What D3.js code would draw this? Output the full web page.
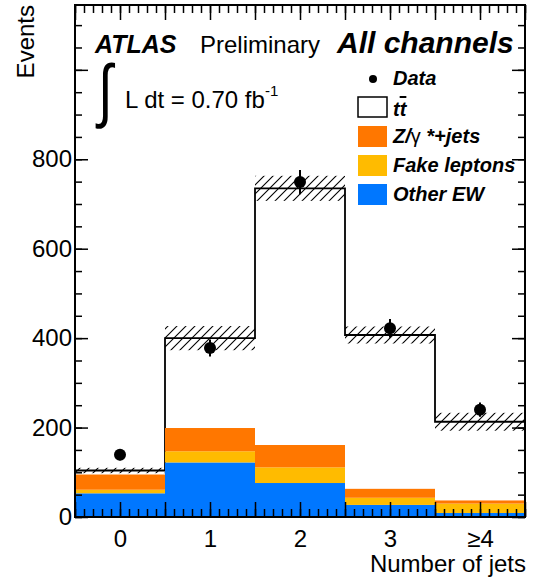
<!DOCTYPE html>
<html>
<head>
<meta charset="utf-8">
<script src="https://cdn.jsdelivr.net/npm/d3@7"></script>
<style>
  body { margin: 0; background: #fff; }
  text { font-family: "Liberation Sans", Arial, sans-serif; }
</style>
</head>
<body>
<div id="chart"></div>
<script>
// bins: number of jets
var jetBins = [0, 1, 2, 3, 4];
var binLabels = ["0", "1", "2", "3", "\u22654"];

// stacked backgrounds (bottom to top)
var otherEW = [53, 122, 76, 27, 9];
var fakeLeptons = [8, 25, 35, 16, 21];
var zJets = [34, 52, 50, 20, 7];
// ttbar on top of the backgrounds
var ttbar = [9, 201, 574, 344, 176];
// systematic band half-width on the total
var totalUnc = [6, 27, 28, 19, 20];

// data
var dataCounts = [139, 378, 749, 422, 240];
var dataErr = [12, 19, 27, 21, 16];

var yTicks = [0, 200, 400, 600, 800, 1000];

var svgWidth = 533;
var svgHeight = 586;

var margin = { top: 5, right: 8, bottom: 69, left: 75 };
var width = 450;
var height = svgHeight - margin.top - margin.bottom;

var svg = d3.select("#chart")
  .append("svg")
  .attr("width", svgWidth)
  .attr("height", svgHeight);

var chartGroup = svg.append("g")
  .attr("transform", `translate(${margin.left}, ${margin.top})`);

var x = d3.scaleLinear().domain([-0.5, 4.5]).range([0, width]);
var y = d3.scaleLinear().domain([0, 1145]).range([height, 0]);

var rows = jetBins.map(function(b, i) {
  return { bin: b, other: otherEW[i], fake: fakeLeptons[i], z: zJets[i], tt: ttbar[i] };
});
var total = rows.map(d => d.other + d.fake + d.z + d.tt);

// hatch pattern for the uncertainty band
var defs = svg.append("defs");
defs.append("pattern")
  .attr("id", "hatch")
  .attr("patternUnits", "userSpaceOnUse")
  .attr("width", 9)
  .attr("height", 9)
  .append("path")
  .attr("d", "M-2,11 L11,-2 M-2,2 L2,-2 M7,11 L11,7")
  .attr("stroke", "#000")
  .attr("stroke-width", 1.1);

// ttbar outline (stack total), drawn first, backgrounds drawn over it
var stepPts = [[x(-0.5), y(0)]];
rows.forEach(function(d, i) {
  stepPts.push([x(d.bin - 0.5), y(total[i])]);
  stepPts.push([x(d.bin + 0.5), y(total[i])]);
});
stepPts.push([x(4.5), y(0)]);

chartGroup.append("path")
  .attr("d", d3.line()(stepPts))
  .attr("fill", "#fff")
  .attr("stroke", "#000")
  .attr("stroke-width", 1.8);

// background stack
var keys = ["other", "fake", "z"];
var colors = { other: "#0077ff", fake: "#ffbb00", z: "#ff7700" };
var stacked = d3.stack().keys(keys)(rows);

chartGroup.selectAll(".layer")
  .data(stacked)
  .enter()
  .append("g")
  .attr("class", "layer")
  .attr("fill", d => colors[d.key])
  .selectAll("rect")
  .data(d => d)
  .enter()
  .append("rect")
  .attr("x", d => x(d.data.bin - 0.5))
  .attr("width", x(1) - x(0))
  .attr("y", d => y(d[1]))
  .attr("height", d => y(d[0]) - y(d[1]));

// uncertainty band
chartGroup.selectAll(".band")
  .data(rows)
  .enter()
  .append("rect")
  .attr("class", "band")
  .attr("x", d => x(d.bin - 0.5))
  .attr("width", x(1) - x(0))
  .attr("y", (d, i) => y(total[i] + totalUnc[i]))
  .attr("height", (d, i) => y(total[i] - totalUnc[i]) - y(total[i] + totalUnc[i]))
  .attr("fill", "url(#hatch)");

// axes: ticks inward
function styleAxis(g) {
  g.select(".domain").remove();
  g.selectAll("line").attr("stroke", "#000").attr("stroke-width", 1.5);
  g.selectAll("text").attr("font-size", "24px").attr("fill", "#000")
    .attr("font-family", "'Liberation Sans', Arial, sans-serif");
}

var xMajor = d3.range(-0.5, 4.51, 0.5);
var xMinor = d3.range(-0.5, 4.51, 0.1);
var yMinor = d3.range(0, 1141, 50);

chartGroup.append("g")
  .attr("transform", `translate(0, ${height})`)
  .call(d3.axisBottom(x).tickValues(xMinor).tickSizeInner(-8).tickSizeOuter(0).tickFormat(""))
  .call(styleAxis);

chartGroup.append("g")
  .attr("transform", `translate(0, ${height})`)
  .call(d3.axisBottom(x).tickValues(xMajor).tickSizeInner(-15).tickSizeOuter(0)
    .tickPadding(13)
    .tickFormat(function(v) {
      var i = jetBins.indexOf(Math.round(v * 10) / 10);
      return i >= 0 ? binLabels[i] : "";
    }))
  .call(styleAxis);

chartGroup.append("g")
  .call(d3.axisTop(x).tickValues(xMinor).tickSizeInner(-8).tickSizeOuter(0).tickFormat(""))
  .call(styleAxis);

chartGroup.append("g")
  .call(d3.axisTop(x).tickValues(xMajor).tickSizeInner(-15).tickSizeOuter(0).tickFormat(""))
  .call(styleAxis);

chartGroup.append("g")
  .call(d3.axisLeft(y).tickValues(yMinor).tickSizeInner(-7).tickSizeOuter(0).tickFormat(""))
  .call(styleAxis);

chartGroup.append("g")
  .call(d3.axisLeft(y).tickValues(yTicks).tickSizeInner(-13).tickSizeOuter(0).tickPadding(3)
    .tickFormat(v => v === 1000 ? "" : v))
  .call(styleAxis);

chartGroup.append("g")
  .attr("transform", `translate(${width}, 0)`)
  .call(d3.axisRight(y).tickValues(yMinor).tickSizeInner(-7).tickSizeOuter(0).tickFormat(""))
  .call(styleAxis);

chartGroup.append("g")
  .attr("transform", `translate(${width}, 0)`)
  .call(d3.axisRight(y).tickValues(yTicks).tickSizeInner(-13).tickSizeOuter(0).tickFormat(""))
  .call(styleAxis);

// frame
chartGroup.append("rect")
  .attr("x", 0).attr("y", 0)
  .attr("width", width).attr("height", height)
  .attr("fill", "none")
  .attr("stroke", "#000")
  .attr("stroke-width", 2);

// data points
chartGroup.selectAll(".errbar")
  .data(dataCounts)
  .enter()
  .append("line")
  .attr("class", "errbar")
  .attr("x1", (d, i) => x(jetBins[i]))
  .attr("x2", (d, i) => x(jetBins[i]))
  .attr("y1", (d, i) => y(d - dataErr[i]))
  .attr("y2", (d, i) => y(d + dataErr[i]))
  .attr("stroke", "#000")
  .attr("stroke-width", 2);

chartGroup.selectAll(".pt")
  .data(dataCounts)
  .enter()
  .append("circle")
  .attr("class", "pt")
  .attr("cx", (d, i) => x(jetBins[i]))
  .attr("cy", d => y(d))
  .attr("r", 6)
  .attr("fill", "#000");

// axis titles
svg.append("text")
  .attr("transform", "translate(34, 5) rotate(-90)")
  .attr("text-anchor", "end")
  .attr("font-size", "24px")
  .text("Events");

svg.append("text")
  .attr("x", 526)
  .attr("y", 572)
  .attr("text-anchor", "end")
  .attr("font-size", "24px")
  .text("Number of jets");

// ATLAS label
svg.append("text")
  .attr("x", 95).attr("y", 53)
  .attr("font-size", "25px")
  .attr("font-weight", "bold")
  .attr("font-style", "italic")
  .text("ATLAS");

svg.append("text")
  .attr("x", 200).attr("y", 53)
  .attr("font-size", "24px")
  .text("Preliminary");

svg.append("text")
  .attr("x", 337).attr("y", 53)
  .attr("font-size", "30px")
  .attr("font-weight", "bold")
  .attr("font-style", "italic")
  .text("All channels");

// luminosity
svg.append("text")
  .attr("transform", "translate(98, 114) scale(0.75, 1)")
  .attr("font-size", "70px")
  .attr("font-family", "'DejaVu Sans', sans-serif")
  .text("\u222B");

var lumi = svg.append("text")
  .attr("x", 125).attr("y", 108)
  .attr("font-size", "24px");
lumi.append("tspan").text("L dt = 0.70 fb");
lumi.append("tspan").attr("font-size", "15px").attr("dy", -12).text("-1");

// legend
var legend = svg.append("g").attr("transform", "translate(358, 0)");

legend.append("circle").attr("cx", 15).attr("cy", 79).attr("r", 4).attr("fill", "#000");
legend.append("text").attr("x", 35).attr("y", 85)
  .attr("font-size", "20px").attr("font-weight", "bold").attr("font-style", "italic")
  .text("Data");

legend.append("rect").attr("x", 0).attr("y", 97).attr("width", 29).attr("height", 20)
  .attr("fill", "#fff").attr("stroke", "#000").attr("stroke-width", 1.5);
var ttText = legend.append("text").attr("x", 35).attr("y", 116)
  .attr("font-size", "20px").attr("font-weight", "bold").attr("font-style", "italic");
ttText.append("tspan").text("t");
ttText.append("tspan").style("text-decoration", "overline").text("t");

var entries = [
  { y: 126, color: colors.z },
  { y: 155, color: colors.fake },
  { y: 184, color: colors.other }
];
legend.selectAll(".lbox")
  .data(entries)
  .enter()
  .append("rect")
  .attr("x", 0).attr("y", d => d.y)
  .attr("width", 29).attr("height", 21)
  .attr("fill", d => d.color);

var zText = legend.append("text").attr("x", 35).attr("y", 143)
  .attr("font-size", "20px").attr("font-weight", "bold").attr("font-style", "italic");
zText.append("tspan").text("Z/");
zText.append("tspan").attr("font-weight", "normal").attr("font-style", "normal").text("\u03B3");
zText.append("tspan").text(" *+jets");

legend.append("text").attr("x", 35).attr("y", 172)
  .attr("font-size", "20px").attr("font-weight", "bold").attr("font-style", "italic")
  .text("Fake leptons");

legend.append("text").attr("x", 35).attr("y", 201)
  .attr("font-size", "20px").attr("font-weight", "bold").attr("font-style", "italic")
  .text("Other EW");
</script>
</body>
</html>
